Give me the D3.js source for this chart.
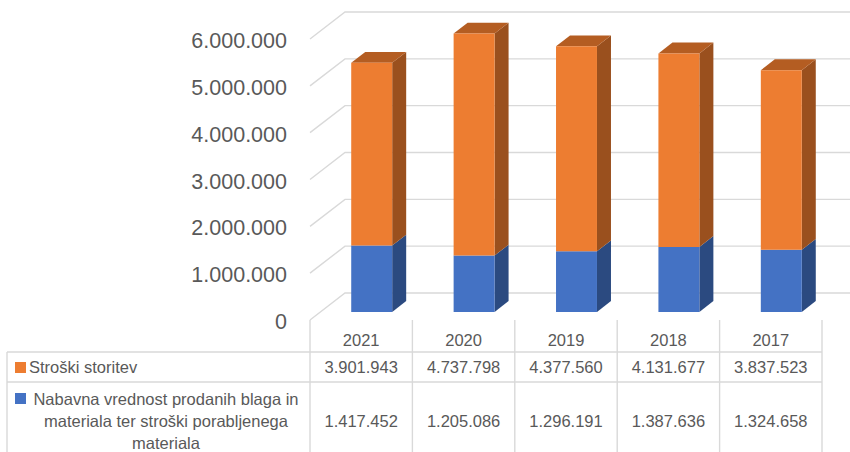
<!DOCTYPE html>
<html>
<head>
<meta charset="utf-8">
<script src="https://cdn.jsdelivr.net/npm/d3@7"></script>
<style>
  html, body { margin: 0; padding: 0; background: #fff; }
  svg { display: block; font-family: "Liberation Sans", Arial, sans-serif; }
</style>
</head>
<body>
<svg id="chart" width="850" height="452"></svg>
<script>
// Years shown left to right
const years = ["2021", "2020", "2019", "2018", "2017"];
// Stroški storitev (upper, orange segment)
const storitve = [3901943, 4737798, 4377560, 4131677, 3837523];
// Nabavna vrednost ... materiala (lower, blue segment)
const material = [1417452, 1205086, 1296191, 1387636, 1324658];
// Value axis ticks
const yTicks = [0, 1000000, 2000000, 3000000, 4000000, 5000000, 6000000];
// Series names for the data table
const seriesNames = [
  "Stroški storitev",
  "Nabavna vrednost prodanih blaga in materiala ter stroški porabljenega materiala"
];
const seriesLines = [
  ["Stroški storitev"],
  ["Nabavna vrednost prodanih blaga in", "materiala ter stroški porabljenega", "materiala"]
];

const fmt = d3.formatLocale({ decimal: ",", thousands: ".", grouping: [3], currency: ["", ""] }).format(",.0f");

const svg = d3.select("#chart");
const grid = "#d9d9d9";
const textCol = "#595959";

// Plot geometry (front plane) and depth vector of the 3D floor
const x0 = 310, x1 = 822;
const depth = { dx: 35, dy: -27 };
const y = d3.scaleLinear().domain([0, 6000000]).range([320, 39]);
const x = d3.scaleBand().domain(years).range([x0, x1]).paddingInner(0).paddingOuter(0);
const proj = (px, v, t) => [px + depth.dx * t, y(v) + depth.dy * t];

// Back wall gridlines and side wall diagonals
const gl = svg.append("g").attr("stroke", grid).attr("stroke-width", 1.4).attr("fill", "none");
yTicks.forEach(v => {
  const a = proj(x0, v, 0), b = proj(x0, v, 1), c = proj(x1, v, 1);
  gl.append("path").attr("d", `M${a[0]},${a[1]}L${b[0]},${b[1]}L${c[0]},${c[1]}`);
});

// Value axis labels
svg.append("g").selectAll("text").data(yTicks).join("text")
  .attr("x", 287).attr("y", d => y(d) + 2)
  .attr("text-anchor", "end").attr("dominant-baseline", "central")
  .attr("fill", textCol).attr("font-size", 21.5)
  .text(d => fmt(d));

// Stacked 3D columns
const tFront = 0.3, tBack = 0.7;
const barW = x.bandwidth() * 0.4;
const poly = pts => "M" + pts.map(p => p.join(",")).join("L") + "Z";
const colors = {
  blue: { front: "#4472C4", side: "#2B4A80", top: "#3A62A8" },
  orange: { front: "#ED7D31", side: "#9A501E", top: "#B45D22" }
};
const bars = svg.append("g");
years.forEach((yr, i) => {
  const cx = x(yr) + x.bandwidth() / 2;
  const l = cx - barW / 2, r = cx + barW / 2;
  const segs = [
    { lo: 0, hi: material[i], c: colors.blue, top: false },
    { lo: material[i], hi: material[i] + storitve[i], c: colors.orange, top: true }
  ];
  segs.forEach(s => {
    const g = bars.append("g");
    // right side face
    g.append("path").attr("fill", s.c.side).attr("d", poly([
      proj(r, s.lo, tFront), proj(r, s.lo, tBack), proj(r, s.hi, tBack), proj(r, s.hi, tFront)
    ]));
    if (s.top) {
      g.append("path").attr("fill", s.c.top).attr("d", poly([
        proj(l, s.hi, tFront), proj(r, s.hi, tFront), proj(r, s.hi, tBack), proj(l, s.hi, tBack)
      ]));
    }
    // front face
    g.append("path").attr("fill", s.c.front).attr("d", poly([
      proj(l, s.lo, tFront), proj(r, s.lo, tFront), proj(r, s.hi, tFront), proj(l, s.hi, tFront)
    ]));
  });
});

// Data table
const tbl = svg.append("g");
const tl = tbl.append("g").attr("stroke", grid).attr("stroke-width", 1.4);
const tableLeft = 7, rowTop = 352, rowMid = 382, tableBottom = 460;
[rowTop, rowMid].forEach(yy => tl.append("line").attr("x1", tableLeft).attr("x2", x1).attr("y1", yy).attr("y2", yy));
tl.append("line").attr("x1", tableLeft).attr("x2", tableLeft).attr("y1", rowTop).attr("y2", tableBottom);
years.forEach(yr => {
  const xx = x(yr);
  tl.append("line").attr("x1", xx).attr("x2", xx).attr("y1", 320).attr("y2", tableBottom);
});
tl.append("line").attr("x1", x1).attr("x2", x1).attr("y1", 320).attr("y2", tableBottom);

const fs = 16.5;
// Category labels
tbl.append("g").selectAll("text").data(years).join("text")
  .attr("x", d => x(d) + x.bandwidth() / 2).attr("y", 340)
  .attr("text-anchor", "middle").attr("dominant-baseline", "central")
  .attr("fill", textCol).attr("font-size", fs).text(d => d);

// Series values
const rows = [
  { vals: storitve, cy: 367, key: colors.orange.front, keyY: 362, lines: seriesLines[0] },
  { vals: material, cy: 421, key: colors.blue.front, keyY: 393, lines: seriesLines[1] }
];
rows.forEach((row, ri) => {
  tbl.append("g").selectAll("text").data(row.vals).join("text")
    .attr("x", (d, i) => x(years[i]) + x.bandwidth() / 2).attr("y", row.cy)
    .attr("text-anchor", "middle").attr("dominant-baseline", "central")
    .attr("fill", textCol).attr("font-size", fs).text(d => fmt(d));
  tbl.append("rect").attr("x", 15).attr("y", row.keyY).attr("width", 11).attr("height", 11).attr("fill", row.key);
  const t = tbl.append("text").attr("fill", textCol).attr("font-size", fs)
    .attr("text-anchor", ri === 0 ? "start" : "middle");
  row.lines.forEach((ln, li) => {
    t.append("tspan")
      .attr("x", ri === 0 ? 29 : 166)
      .attr("y", (ri === 0 ? 367 : 399) + li * 22)
      .attr("dominant-baseline", "central")
      .text(ln);
  });
});
</script>
</body>
</html>
